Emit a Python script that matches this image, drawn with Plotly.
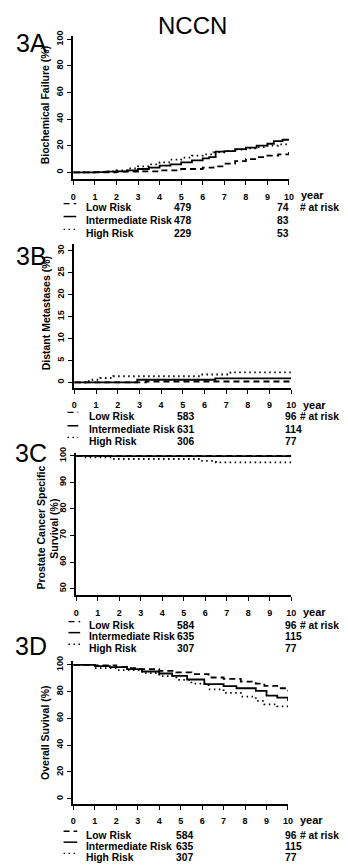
import plotly.graph_objects as go

W, H = 348, 867

# ---------------- data ----------------
groups = ["Low Risk", "Intermediate Risk", "High Risk"]
x_ticks = list(range(0, 11))

# 3A Biochemical failure (%)
a_low_t = [0, 2, 3, 4, 5, 6, 6.5, 7, 7.5, 8, 8.5, 9, 9.5, 10]
a_low_v = [0, 0.5, 0.8, 1.5, 2.5, 3.5, 4.5, 6.5, 8.5, 10, 11.5, 12.5, 13.5, 16]
a_int_t = [0, 1, 1.5, 2, 2.5, 3, 3.5, 4, 4.5, 5, 5.5, 6, 6.3, 6.6, 7, 7.5, 8, 8.5, 9, 9.3, 9.7, 10]
a_int_v = [0, 0.2, 0.5, 0.8, 1.5, 2.5, 3.5, 5, 6, 7.5, 9, 10.5, 11.5, 15.5, 16, 17.5, 18.5, 20, 21.5, 23.5, 24.5, 25]
a_high_t = [0, 1, 1.5, 2, 2.5, 3, 3.5, 4, 4.5, 5, 5.5, 6, 6.5, 7, 7.5, 8, 8.5, 9, 9.5, 10]
a_high_v = [0, 0.3, 0.8, 1.5, 3, 4.5, 6, 7.5, 9.5, 11, 12.5, 13.5, 15, 16, 17, 18, 19, 20, 21, 21.5]
a_risk5 = [479, 478, 229]
a_risk10 = [74, 83, 53]

# 3B Distant metastases (%)
b_low_t = [0, 3.3, 10]
b_low_v = [0, 0.2, 0.2]
b_int_t = [0, 2.9, 6.5, 10]
b_int_v = [0, 0.6, 0.9, 0.9]
b_high_t = [0, 0.5, 0.8, 1.2, 1.8, 5.8, 7.2, 10]
b_high_v = [0, 0.3, 0.6, 1.0, 1.4, 1.8, 2.3, 2.3]
b_risk5 = [583, 631, 306]
b_risk10 = [96, 114, 77]

# 3C Prostate cancer specific survival (%)
c_low_t = [0, 10]
c_low_v = [100, 100]
c_int_t = [0, 1.3, 10]
c_int_v = [100, 99.9, 99.9]
c_high_t = [0, 0.3, 1.7, 5.7, 6.5, 10]
c_high_v = [100, 99.4, 98.8, 98.1, 97.5, 97.5]
c_risk5 = [584, 635, 307]
c_risk10 = [96, 115, 77]

# 3D Overall survival (%)
d_low_t = [0, 1, 2, 2.5, 3, 4, 4.8, 5.5, 6.3, 7, 7.8, 8.5, 8.9, 9.5, 10]
d_low_v = [100, 99.5, 98.5, 97.5, 96.8, 95.5, 94.3, 93, 90.5, 89.5, 87.5, 86, 84.3, 82.5, 80.3]
d_int_t = [0, 1, 1.7, 2.5, 3.2, 4, 4.6, 5.3, 6.1, 7, 7.6, 8.5, 9, 9.5, 10]
d_int_v = [100, 99, 98.2, 96.8, 95, 93.5, 91.7, 89, 85.5, 84, 82.5, 80.5, 77, 75.5, 73]
d_high_t = [0, 1, 2, 3.2, 4, 4.8, 5.5, 6.3, 7, 7.8, 8.5, 8.9, 9.5, 10]
d_high_v = [100, 97.5, 96, 93.8, 91.5, 88.8, 86, 81.7, 79, 76.3, 73, 70.5, 69, 68]
d_risk5 = [584, 635, 307]
d_risk10 = [96, 115, 77]

# ---------------- styling ----------------
FONT = "Liberation Sans, Arial, Helvetica, sans-serif"
dashes = ["6px,4px", "solid", "1.5px,3.5px"]
widths = [1.8, 1.8, 1.8]
TXT = 10.3


def px(x):
    return x / W


def py(y):
    return 1 - y / H


def bold(size):
    return dict(family=FONT, size=size, color="black", weight="bold")


panels = [
    dict(series=[(a_low_t, a_low_v), (a_int_t, a_int_v), (a_high_t, a_high_v)],
         risk5=a_risk5, risk10=a_risk10, label="3A",
         x0=72, x1=292.7, top=30, bot=174.3, yrange=[-5.07, 102.6],
         yticks=[0, 20, 40, 60, 80, 100],
         ytitle=[("Biochemical Failure (%)", 43, 100)],
         lab_y=37.5, tick_y=190, rows=[203, 216, 229], text_x=83, sym=(62, 75),
         s5=1, s10=-14),
    dict(series=[(b_low_t, b_low_v), (b_int_t, b_int_v), (b_high_t, b_high_v)],
         risk5=b_risk5, risk10=b_risk10, label="3B",
         x0=73, x1=295, top=240, bot=384.3, yrange=[-1.2, 31.5],
         yticks=[0, 5, 10, 15, 20, 25, 30],
         ytitle=[("Distant Metastases (%)", 43.5, 310)],
         lab_y=252, tick_y=401.7, rows=[413.3, 426.7, 438.3], text_x=86, sym=(66, 77),
         s5=3, s10=-8),
    dict(series=[(c_low_t, c_low_v), (c_int_t, c_int_v), (c_high_t, c_high_v)],
         risk5=c_risk5, risk10=c_risk10, label="3C",
         x0=75, x1=295, top=450, bot=593.3, yrange=[47.5, 101.1],
         yticks=[50, 60, 70, 80, 90, 100],
         ytitle=[("Prostate Cancer Specific", 39, 525), ("Survival (%)", 52.5, 526)],
         lab_y=450, tick_y=610, rows=[624, 635, 646.7], text_x=86, sym=(67, 79),
         s5=2, s10=-8),
    dict(series=[(d_low_t, d_low_v), (d_int_t, d_int_v), (d_high_t, d_high_v)],
         risk5=d_risk5, risk10=d_risk10, label="3D",
         x0=72, x1=291.7, top=660, bot=803.3, yrange=[-3.7, 102.5],
         yticks=[0, 20, 40, 60, 80, 100],
         ytitle=[("Overall Suvival (%)", 43, 732)],
         lab_y=644, tick_y=820, rows=[835, 846, 857.3], text_x=83, sym=(62, 76),
         s5=4, s10=-5),
]

fig = go.Figure()
annotations = []
shapes = []
layout = {}

for i, p in enumerate(panels):
    n = "" if i == 0 else str(i + 1)
    xa, ya = "x" + n, "y" + n
    for g, (t, v) in enumerate(p["series"]):
        fig.add_trace(go.Scatter(
            x=t, y=v, mode="lines", line=dict(color="black", width=widths[g], dash=dashes[g], shape="hv"),
            xaxis=xa, yaxis=ya, showlegend=False, hoverinfo="skip"))
    layout["xaxis" + n] = dict(
        domain=[px(p["x0"]), px(p["x1"])], range=[0, 10], anchor=ya,
        tickvals=x_ticks, ticks="outside", ticklen=4, tickwidth=1.3, tickcolor="black",
        showline=True, linewidth=1.8, linecolor="black", showgrid=False, zeroline=False,
        tickfont=bold(9), ticklabelstandoff=4, fixedrange=True)
    layout["yaxis" + n] = dict(
        domain=[py(p["bot"]), py(p["top"])], range=p["yrange"], anchor=xa,
        tickvals=p["yticks"], ticks="outside", ticklen=4, tickwidth=1.3, tickcolor="black",
        showline=True, linewidth=1.8, linecolor="black", showgrid=False, zeroline=False,
        tickfont=bold(9), tickangle=-90, ticklabelstandoff=1, fixedrange=True)

    # panel label
    annotations.append(dict(text=p["label"], x=px(29), y=py(p["lab_y"]), xref="paper", yref="paper",
                            showarrow=False, xanchor="center", yanchor="middle",
                            font=dict(family=FONT, size=25, color="black")))
    # y-axis title(s)
    for txt, tx, ty in p["ytitle"]:
        annotations.append(dict(text=txt, x=px(tx), y=py(ty), xref="paper", yref="paper",
                                showarrow=False, textangle=-90, xanchor="center", yanchor="middle",
                                font=bold(10.5)))
    # "year" label
    annotations.append(dict(text="year", x=10, y=py(p["tick_y"]), xref=xa, yref="paper",
                            showarrow=False, xanchor="left", yanchor="middle", xshift=10,
                            font=bold(11)))
    # risk table
    for g, name in enumerate(groups):
        ry = p["rows"][g]
        annotations.append(dict(text=name, x=px(p["text_x"]), y=py(ry), xref="paper", yref="paper",
                                showarrow=False, xanchor="left", yanchor="middle", font=bold(TXT)))
        annotations.append(dict(text=str(p["risk5"][g]), x=5, y=py(ry), xref=xa, yref="paper",
                                showarrow=False, xanchor="center", yanchor="middle", xshift=p["s5"],
                                font=bold(TXT)))
        annotations.append(dict(text=str(p["risk10"][g]), x=10, y=py(ry), xref=xa, yref="paper",
                                showarrow=False, xanchor="left", yanchor="middle", xshift=p["s10"],
                                font=bold(TXT)))
        shapes.append(dict(type="line", xref="paper", yref="paper",
                           x0=px(p["sym"][0]), x1=px(p["sym"][1]), y0=py(ry - 4), y1=py(ry - 4),
                           line=dict(color="black", width=1.3 if g != 1 else 1.5, dash=dashes[g])))
    annotations.append(dict(text="# at risk", x=px(302), y=py(p["rows"][0]), xref="paper", yref="paper",
                            showarrow=False, xanchor="left", yanchor="middle", font=bold(TXT)))

annotations.append(dict(text="NCCN", x=px(194), y=py(20), xref="paper", yref="paper", showarrow=False,
                        xanchor="center", yanchor="middle", font=dict(family=FONT, size=24, color="black")))

fig.update_layout(
    width=W, height=H, margin=dict(l=0, r=0, t=0, b=0),
    paper_bgcolor="white", plot_bgcolor="white",
    annotations=annotations, shapes=shapes, showlegend=False, **layout)

fig.write_html("out.html", config={"displayModeBar": False})
